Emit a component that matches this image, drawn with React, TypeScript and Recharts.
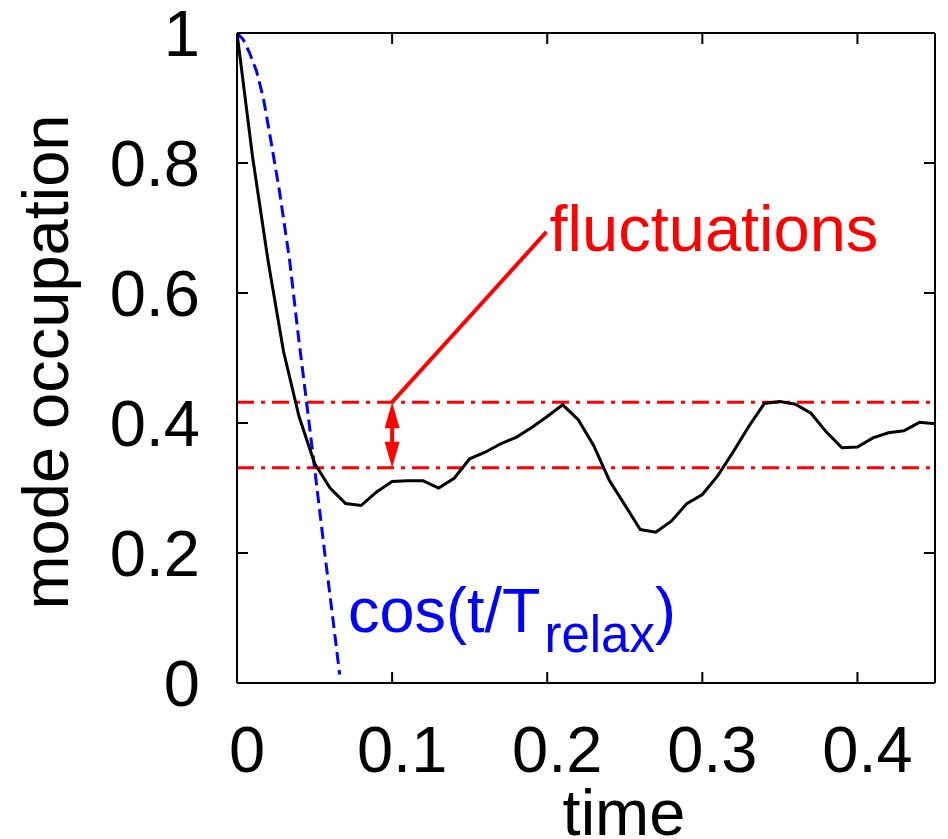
import React from 'react'
import { LineChart, Line, XAxis, YAxis, ReferenceLine, ReferenceDot, Label } from 'recharts'

const FONT = '"Liberation Sans", Arial, Helvetica, sans-serif'

// simulated mode occupation (black)
const times = [
  0, 0.01, 0.02, 0.03, 0.04, 0.05, 0.06, 0.07, 0.08, 0.09,
  0.1, 0.11, 0.12, 0.13, 0.14, 0.15, 0.16, 0.17, 0.18, 0.19,
  0.2, 0.21, 0.22, 0.23, 0.24, 0.25, 0.26, 0.27, 0.28, 0.29,
  0.3, 0.31, 0.32, 0.33, 0.34, 0.35, 0.36, 0.37, 0.38, 0.39,
  0.4, 0.41, 0.42, 0.43, 0.44, 0.45,
]
const occupation = [
  1.0, 0.81, 0.65, 0.51, 0.41, 0.338, 0.30, 0.276, 0.273, 0.294,
  0.31, 0.311, 0.311, 0.30, 0.315, 0.345, 0.355, 0.368, 0.378, 0.393,
  0.41, 0.428, 0.405, 0.365, 0.312, 0.274, 0.236, 0.232, 0.249, 0.276,
  0.29, 0.319, 0.356, 0.395, 0.43, 0.433, 0.429, 0.415, 0.386, 0.362,
  0.363, 0.377, 0.385, 0.388, 0.401, 0.399,
]

// cos(t/T_relax) guide (blue dashed)
const cosTimes = [0, 0.004, 0.008, 0.0125, 0.017, 0.021, 0.0275, 0.034, 0.0393, 0.0447, 0.05, 0.0565, 0.0615, 0.0662]
const cosValues = [1, 0.99, 0.97, 0.942, 0.9, 0.846, 0.755, 0.649, 0.539, 0.435, 0.331, 0.201, 0.105, 0.013]

// fluctuation band
const bandHigh = 0.432
const bandLow = 0.331
const arrowTime = 0.1

const xTicks = [0, 0.1, 0.2, 0.3, 0.4]
const yTicks = [0, 0.2, 0.4, 0.6, 0.8, 1]
const xMax = 0.45
const yMax = 1

const mainData = times.map((t, i) => ({ t, v: occupation[i] }))
const cosData = cosTimes.map((t, i) => ({ t, v: cosValues[i] }))

const RED = '#ff0000'
const BLUE = '#0000ff'

// plot box (chart px)
const W = 948
const H = 839
const M = { top: 32, right: 12, left: 0, bottom: 0 }
const Y_AXIS_W = 237
const X_AXIS_H = 156
const PLOT_TOP = M.top + 1
const PLOT_BOTTOM = H - M.bottom - X_AXIS_H
const PLOT_LEFT = M.left + Y_AXIS_W
const PLOT_RIGHT = W - M.right - 1
const TICK = 11
const FS = 65

// bottom tick: label + inward marks on bottom and top edges
function XTick(p: any) {
  const cx = p.payload.coordinate
  return (
    <g>
      <rect x={cx - 1} y={PLOT_BOTTOM - TICK} width={2} height={TICK} fill="#000" />
      <rect x={cx - 1} y={PLOT_TOP} width={2} height={TICK} fill="#000" />
      <text x={cx + 10} y={PLOT_BOTTOM + 89} textAnchor="middle" fontSize={FS} fontFamily={FONT} fill="#000">
        {p.payload.value}
      </text>
    </g>
  )
}

// left tick: label + inward marks on left and right edges
function YTick(p: any) {
  const cy = p.payload.coordinate
  return (
    <g>
      <rect x={PLOT_LEFT} y={cy - 1} width={TICK} height={2} fill="#000" />
      <rect x={PLOT_RIGHT - TICK} y={cy - 1} width={TICK} height={2} fill="#000" />
      <text x={PLOT_LEFT - 37} y={cy + 23} textAnchor="end" fontSize={FS} fontFamily={FONT} fill="#000">
        {p.payload.value}
      </text>
    </g>
  )
}

function DoubleArrow(p: any) {
  const { x1, y1, x2, y2 } = p
  const top = Math.min(y1, y2)
  const bot = Math.max(y1, y2)
  const head = 26
  const hw = 7.5
  return (
    <g>
      <line x1={x1} x2={x2} y1={top + head - 2} y2={bot - head + 2} stroke={RED} strokeWidth={4} />
      <polygon points={`${x1},${top} ${x1 - hw},${top + head} ${x1 + hw},${top + head}`} fill={RED} />
      <polygon points={`${x1},${bot} ${x1 - hw},${bot - head} ${x1 + hw},${bot - head}`} fill={RED} />
    </g>
  )
}

export default function App() {
  return (
    <div style={{ position: 'absolute', left: 0, top: 0, background: '#fff' }}>
      <LineChart width={W} height={H} margin={M}>
        <XAxis
          xAxisId="b"
          dataKey="t"
          type="number"
          domain={[0, xMax]}
          ticks={xTicks}
          allowDataOverflow
          height={X_AXIS_H}
          tickSize={0}
          tickMargin={0}
          tickLine={false}
          tick={XTick}
          axisLine={{ stroke: '#000', strokeWidth: 2 }}
        >
          <Label
            content={() => (
              <text x={624} y={835} textAnchor="middle" fontSize={FS} fontFamily={FONT} fill="#000">
                time
              </text>
            )}
          />
        </XAxis>
        {/* top border */}
        <XAxis
          xAxisId="top"
          orientation="top"
          dataKey="t"
          type="number"
          domain={[0, xMax]}
          ticks={xTicks}
          allowDataOverflow
          height={1}
          tickLine={false}
          tick={false}
          axisLine={{ stroke: '#000', strokeWidth: 2 }}
        />
        <YAxis
          yAxisId="l"
          type="number"
          domain={[0, yMax]}
          ticks={yTicks}
          allowDataOverflow
          width={Y_AXIS_W}
          tickSize={0}
          tickMargin={0}
          tickLine={false}
          tick={YTick}
          axisLine={{ stroke: '#000', strokeWidth: 2 }}
        >
          <Label
            content={() => (
              <text
                x={68}
                y={362}
                transform="rotate(-90 68 362)"
                textAnchor="middle"
                fontSize={FS}
                fontFamily={FONT}
                fill="#000"
              >
                mode occupation
              </text>
            )}
          />
        </YAxis>
        {/* right border */}
        <YAxis
          yAxisId="r"
          orientation="right"
          type="number"
          domain={[0, yMax]}
          ticks={yTicks}
          allowDataOverflow
          width={1}
          tickLine={false}
          tick={false}
          axisLine={{ stroke: '#000', strokeWidth: 2 }}
        />

        <ReferenceLine xAxisId="b" yAxisId="l" y={bandHigh} stroke={RED} strokeWidth={3} strokeDasharray="17 7 4 7" />
        <ReferenceLine xAxisId="b" yAxisId="l" y={bandLow} stroke={RED} strokeWidth={3} strokeDasharray="17 7 4 7" />

        <Line
          xAxisId="b"
          yAxisId="l"
          data={cosData}
          dataKey="v"
          type="linear"
          stroke={BLUE}
          strokeWidth={3}
          strokeDasharray="12 6"
          dot={false}
          activeDot={false}
          isAnimationActive={false}
        />
        <Line
          xAxisId="b"
          yAxisId="l"
          data={mainData}
          dataKey="v"
          type="linear"
          stroke="#000"
          strokeWidth={3}
          dot={false}
          activeDot={false}
          isAnimationActive={false}
        />

        <ReferenceLine
          xAxisId="b"
          yAxisId="l"
          segment={[{ x: arrowTime, y: bandHigh }, { x: 0.1995, y: 0.694 }]}
          stroke={RED}
          strokeWidth={4}
        />
        <ReferenceLine
          xAxisId="b"
          yAxisId="l"
          segment={[{ x: arrowTime, y: bandHigh }, { x: arrowTime, y: bandLow }]}
          shape={DoubleArrow}
        />
        <ReferenceDot
          xAxisId="b"
          yAxisId="l"
          x={0.2015}
          y={0.665}
          shape={(p: any) => (
            <text x={p.cx} y={p.cy} fontSize={FS} fontFamily={FONT} fill={RED}>
              fluctuations
            </text>
          )}
        />
        <ReferenceDot
          xAxisId="b"
          yAxisId="l"
          x={0.0715}
          y={0.079}
          shape={(p: any) => (
            <text x={p.cx} y={p.cy} fontSize={63} fontFamily={FONT} fill={BLUE}>
              cos(t/T
              <tspan fontSize={51} dx={4} dy={20}>relax</tspan>
              <tspan dy={-20}>)</tspan>
            </text>
          )}
        />
      </LineChart>
    </div>
  )
}
